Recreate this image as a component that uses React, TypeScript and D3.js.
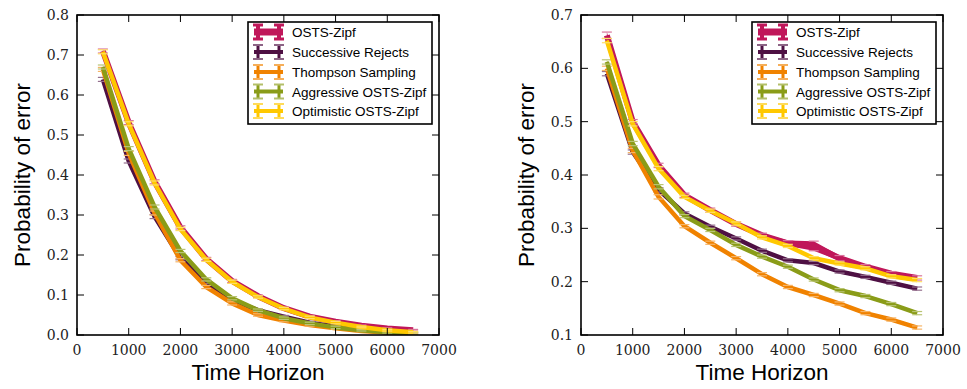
import React from "react";
import * as d3 from "d3";

const timeHorizon = [500, 1000, 1500, 2000, 2500, 3000, 3500, 4000, 4500, 5000, 5500, 6000, 6500];
const seriesNames = ["OSTS-Zipf", "Successive Rejects", "Thompson Sampling", "Aggressive OSTS-Zipf", "Optimistic OSTS-Zipf"];
const seriesColors = ["#C0175A", "#4E1043", "#F08200", "#8A9C18", "#FFC800"];

const xTicks = [0, 1000, 2000, 3000, 4000, 5000, 6000, 7000];
const leftYTicks = [0, 0.1, 0.2, 0.3, 0.4, 0.5, 0.6, 0.7, 0.8];
const rightYTicks = [0.1, 0.2, 0.3, 0.4, 0.5, 0.6, 0.7];

// Left panel values
const leftOSTS = [0.71, 0.531, 0.383, 0.269, 0.19, 0.135, 0.097, 0.067, 0.046, 0.033, 0.023, 0.016, 0.012];
const leftSR = [0.639, 0.435, 0.296, 0.192, 0.133, 0.087, 0.062, 0.046, 0.031, 0.021, 0.013, 0.007, 0.005];
const leftTS = [0.664, 0.454, 0.305, 0.187, 0.12, 0.079, 0.05, 0.036, 0.025, 0.017, 0.01, 0.006, 0.004];
const leftAggr = [0.67, 0.466, 0.32, 0.21, 0.139, 0.092, 0.062, 0.042, 0.029, 0.019, 0.012, 0.007, 0.004];
const leftOpt = [0.708, 0.528, 0.38, 0.265, 0.188, 0.133, 0.095, 0.066, 0.044, 0.031, 0.02, 0.012, 0.007];
const leftErr = [0.005, 0.005, 0.005, 0.004, 0.004, 0.004, 0.003, 0.003, 0.003, 0.003, 0.002, 0.002, 0.002];

// Right panel values
const rightOSTS = [0.662, 0.5, 0.418, 0.362, 0.334, 0.308, 0.287, 0.272, 0.267, 0.244, 0.228, 0.215, 0.207];
const rightSR = [0.59, 0.443, 0.372, 0.328, 0.303, 0.281, 0.258, 0.24, 0.235, 0.219, 0.209, 0.198, 0.187];
const rightTS = [0.6, 0.446, 0.359, 0.304, 0.273, 0.244, 0.214, 0.19, 0.175, 0.159, 0.141, 0.129, 0.114];
const rightAggr = [0.612, 0.459, 0.378, 0.323, 0.297, 0.269, 0.247, 0.228, 0.204, 0.184, 0.173, 0.158, 0.141];
const rightOpt = [0.652, 0.496, 0.412, 0.359, 0.333, 0.309, 0.283, 0.267, 0.244, 0.234, 0.225, 0.21, 0.203];
const rightErrOSTS = [0.006, 0.004, 0.004, 0.004, 0.004, 0.004, 0.004, 0.005, 0.009, 0.005, 0.004, 0.004, 0.004];
const rightErr = [0.004, 0.004, 0.004, 0.003, 0.003, 0.003, 0.003, 0.003, 0.003, 0.003, 0.003, 0.003, 0.003];

const serifFont = "DejaVu Serif";
const sansFont = "Liberation Sans";

type PanelProps = {
  left: number;
  right: number;
  top: number;
  bottom: number;
  yDomain: [number, number];
  yTicks: number[];
  series: number[][];
  errs: number[][];
  legendLeft: number;
  yLabelX: number;
};

const Panel = (p: PanelProps) => {
  const x = d3.scaleLinear().domain([0, 7000]).range([p.left, p.right]);
  const y = d3.scaleLinear().domain(p.yDomain).range([p.bottom, p.top]);
  const tickLen = 7;
  const line = d3
    .line<number>()
    .x((_, i) => x(timeHorizon[i]))
    .y((d) => y(d));
  const widths = [6, 4.5, 4.5, 4.5, 4.5];
  const legTop = 22;
  const legW = 184;
  const legH = 102;
  const rowY = [10, 30, 50, 69.5, 89];
  return (
    <g>
      <defs>
        <clipPath id={`clip${p.left}`}>
          <rect x={p.left} y={p.top} width={p.right - p.left} height={p.bottom - p.top} />
        </clipPath>
      </defs>
      <g clipPath={`url(#clip${p.left})`}>
        {p.series.map((s, k) => {
          const c = seriesColors[k];
          const capC = d3.interpolateRgb(c, "#ffffff")(0.4);
          const band = d3
            .area<number>()
            .x((_, i) => x(timeHorizon[i]))
            .y0((d, i) => y(d - p.errs[k][i]))
            .y1((d, i) => y(d + p.errs[k][i]));
          return (
            <g key={k}>
              <path d={band(s) || ""} fill={c} stroke="none" />
              <path d={line(s) || ""} fill="none" stroke={c} strokeWidth={widths[k]} strokeLinejoin="round" />
              {s.map((v, i) => {
                const cx = x(timeHorizon[i]);
                const yt = y(v + p.errs[k][i]);
                const yb = y(v - p.errs[k][i]);
                return (
                  <g key={i}>
                    <line x1={cx - 5} x2={cx + 5} y1={yt} y2={yt} stroke={capC} strokeWidth={1.2} />
                    <line x1={cx - 5} x2={cx + 5} y1={yb} y2={yb} stroke={capC} strokeWidth={1.2} />
                  </g>
                );
              })}
            </g>
          );
        })}
      </g>
      {/* ticks */}
      {xTicks.map((t) => (
        <g key={"x" + t}>
          <line x1={x(t)} x2={x(t)} y1={p.bottom} y2={p.bottom - tickLen} stroke="#000" strokeWidth={1} />
          <line x1={x(t)} x2={x(t)} y1={p.top} y2={p.top + tickLen} stroke="#000" strokeWidth={1} />
          <text
            x={x(t)}
            y={p.bottom + 20}
            textAnchor="middle"
            fontFamily={serifFont}
            fontSize={14}
            fill="#222"
          >
            {t}
          </text>
        </g>
      ))}
      {p.yTicks.map((t) => (
        <g key={"y" + t}>
          <line x1={p.left} x2={p.left + tickLen} y1={y(t)} y2={y(t)} stroke="#000" strokeWidth={1} />
          <line x1={p.right} x2={p.right - tickLen} y1={y(t)} y2={y(t)} stroke="#000" strokeWidth={1} />
          <text
            x={p.left - 8}
            y={y(t) + 5}
            textAnchor="end"
            fontFamily={serifFont}
            fontSize={14}
            fill="#222"
          >
            {t.toFixed(1)}
          </text>
        </g>
      ))}
      <rect x={p.left} y={p.top} width={p.right - p.left} height={p.bottom - p.top} fill="none" stroke="#000" strokeWidth={1.6} />
      {/* axis labels */}
      <text
        x={(p.left + p.right) / 2}
        y={380}
        textAnchor="middle"
        fontFamily={sansFont}
        fontSize={22.5}
        fill="#000"
      >
        Time Horizon
      </text>
      <text
        transform={`translate(${p.yLabelX},${(p.top + p.bottom) / 2}) rotate(-90)`}
        textAnchor="middle"
        fontFamily={sansFont}
        fontSize={22.5}
        fill="#000"
      >
        Probability of error
      </text>
      {/* legend */}
      <rect x={p.legendLeft} y={legTop} width={legW} height={legH} fill="#fff" stroke="#000" strokeWidth={1.6} />
      {seriesNames.map((name, k) => {
        const c = seriesColors[k];
        const capC = d3.interpolateRgb(c, "#ffffff")(0.35);
        const cy = legTop + rowY[k];
        const hx0 = p.legendLeft + 6;
        const hx1 = p.legendLeft + 35;
        const s0 = hx0 + 4;
        const s1 = hx1 - 4;
        const thick = k === 0;
        return (
          <g key={name}>
            <line x1={hx0} x2={hx1} y1={cy} y2={cy} stroke={c} strokeWidth={thick ? 7 : 4} />
            {[s0, s1].map((sx) => (
              <g key={sx}>
                <line x1={sx} x2={sx} y1={cy - 7} y2={cy + 7} stroke={c} strokeWidth={thick ? 4 : 3} />
                <line x1={sx - 5} x2={sx + 5} y1={cy - 7} y2={cy - 7} stroke={thick ? c : capC} strokeWidth={thick ? 3 : 2} />
                <line x1={sx - 5} x2={sx + 5} y1={cy + 7} y2={cy + 7} stroke={thick ? c : capC} strokeWidth={thick ? 3 : 2} />
              </g>
            ))}
            <text
              x={p.legendLeft + 44}
              y={cy + 5}
              fontFamily={sansFont}
              fontSize={13.5}
              fill="#000"
            >
              {name}
            </text>
          </g>
        );
      })}
    </g>
  );
};

export default function App() {
  return (
    <svg
      width={967}
      height={389}
      style={{ position: "absolute", left: 0, top: 0, background: "#fff" }}
    >
      <rect x={0} y={0} width={967} height={389} fill="#fff" />
      <Panel
        left={77}
        right={439}
        top={15}
        bottom={335}
        yDomain={[0, 0.8]}
        yTicks={leftYTicks}
        series={[leftOSTS, leftSR, leftTS, leftAggr, leftOpt]}
        errs={[leftErr, leftErr, leftErr, leftErr, leftErr]}
        legendLeft={248}
        yLabelX={30}
      />
      <Panel
        left={581}
        right={943}
        top={15}
        bottom={335}
        yDomain={[0.1, 0.7]}
        yTicks={rightYTicks}
        series={[rightOSTS, rightSR, rightTS, rightAggr, rightOpt]}
        errs={[rightErrOSTS, rightErr, rightErr, rightErr, rightErr]}
        legendLeft={752}
        yLabelX={534}
      />
    </svg>
  );
}
